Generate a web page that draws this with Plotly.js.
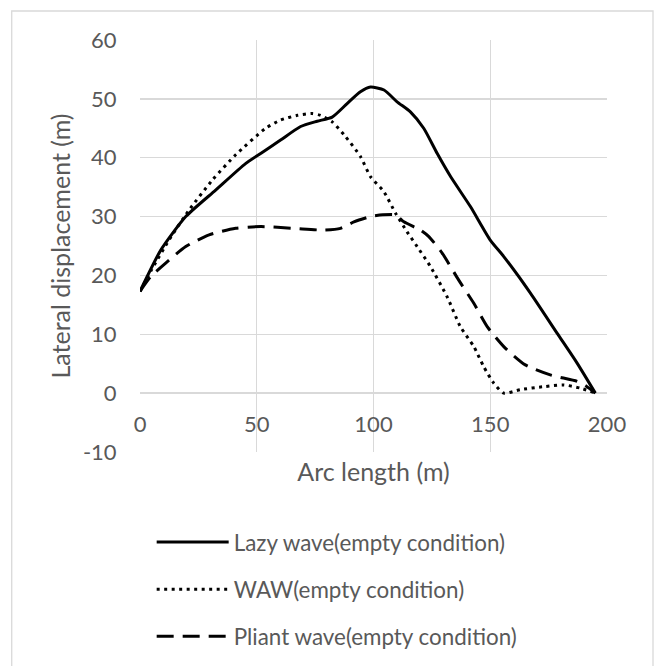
<!DOCTYPE html>
<html>
<head>
<meta charset="utf-8">
<script src="https://cdn.plot.ly/plotly-3.0.1.min.js"></script>
<style>
html,body{margin:0;padding:0;background:#fff;}
#chart{width:660px;height:666px;}
</style>
</head>
<body>
<div id="chart"></div>
<script>
var seriesNames = ["Lazy wave(empty condition)", "WAW(empty condition)", "Pliant wave(empty condition)"];

var lazyX = [0, 8.9, 19.6, 32.4, 45.2, 52, 60.2, 68.8, 75.9, 82.3, 88.7, 94.4, 98.7, 104.5, 110.1, 115.8, 121.5, 127.3, 133, 141.5, 150, 155.8, 167.2, 178.6, 187.2, 195];
var lazyY = [17.3, 24.3, 30, 34.5, 39, 40.8, 43, 45.3, 46.2, 46.9, 49.2, 51.2, 52, 51.5, 49.5, 47.8, 45, 40.7, 36.8, 31.7, 26, 23.2, 17, 10.2, 5.1, 0];

var wawX = [0, 5, 12.4, 21, 31, 41, 53.8, 60.2, 67.4, 73.8, 77.3, 82.3, 88, 94.4, 98.7, 104.5, 109.4, 114.4, 118.7, 124.4, 131.5, 137.2, 143, 147.2, 151.5, 155.8, 162.9, 172.9, 181.4, 188.6, 195];
var wawY = [17.3, 21, 26, 31.1, 36.2, 40.5, 45, 46.4, 47.2, 47.5, 47.2, 46.1, 43.6, 40.2, 36.8, 34.2, 30.6, 27.4, 24.9, 21.5, 16.4, 11.3, 7.9, 4.5, 1.7, 0, 0.6, 1.1, 1.4, 0.85, 0];

var pliantX = [0, 4.6, 11, 19.6, 29.6, 41, 51.7, 65.9, 78.7, 85.9, 91.6, 98.7, 104, 109.4, 113, 120.1, 123.7, 129.4, 136.5, 142.9, 148.7, 155.8, 165, 175.7, 187.2, 191, 195];
var pliantY = [17.3, 19.8, 22.1, 24.9, 26.9, 28, 28.3, 28, 27.7, 28, 29.1, 30, 30.3, 30.3, 29.1, 27.7, 26.6, 23.8, 19.2, 15.3, 11.3, 7.9, 4.8, 3.1, 2.0, 1.2, 0];

var xTicks = [0, 50, 100, 150, 200];
var yTicks = [-10, 0, 10, 20, 30, 40, 50, 60];

var FONT = "Lato, 'Open Sans', sans-serif";
var GRAY = "#595959";
var GRID = "#d9d9d9";

function tr(x, y, name, dash) {
  return {
    x: x, y: y, name: name, type: "scatter", mode: "lines",
    legendgroup: name,
    line: {color: "#000000", width: 3, dash: dash, shape: "spline", smoothing: 0.6},
    hoverinfo: "skip"
  };
}

var data = [
  tr(lazyX, lazyY, seriesNames[0], "solid"),
  tr(wawX, wawY, seriesNames[1], "3px,4.5px"),
  tr(pliantX, pliantY, seriesNames[2], "17px,9px")
];

var layout = {
  width: 660, height: 666,
  margin: {l: 140, r: 53, t: 40, b: 214, autoexpand: false},
  paper_bgcolor: "#ffffff", plot_bgcolor: "#ffffff",
  font: {family: FONT, size: 22, color: GRAY},
  showlegend: true,
  legend: {
    x: 0.025, xanchor: "left", y: -0.1675, yanchor: "top",
    orientation: "v", tracegroupgap: 15, itemwidth: 72,
    font: {family: FONT, size: 22.4, color: GRAY},
    bgcolor: "rgba(0,0,0,0)"
  },
  xaxis: {
    range: [0, 200], tickvals: xTicks, ticktext: xTicks.map(String),
    showgrid: true, gridcolor: GRID, gridwidth: 1.3,
    zeroline: false, showline: false,
    anchor: "free", position: 1/7,
    ticks: "outside", ticklen: 11, tickcolor: "rgba(0,0,0,0)",
    tickfont: {family: FONT, size: 22, color: GRAY},
    title: {text: "Arc length (m)", font: {family: FONT, size: 25, color: GRAY}, standoff: 27}
  },
  yaxis: {
    range: [-10, 60], tickvals: yTicks, ticktext: yTicks.map(String),
    showgrid: true, gridcolor: GRID, gridwidth: 1.3,
    zeroline: false, showline: false,
    ticks: "outside", ticklen: 18, tickcolor: "rgba(0,0,0,0)",
    tickfont: {family: FONT, size: 22, color: GRAY},
    title: {text: "Lateral displacement (m)", font: {family: FONT, size: 25, color: GRAY}, standoff: 5}
  },
  shapes: [{
    type: "rect", xref: "paper", yref: "paper",
    x0: -0.2747, x1: 1.0985, y0: -0.7, y1: 1.0704,
    line: {color: GRID, width: 1.3}, fillcolor: "rgba(0,0,0,0)", layer: "below"
  }]
};

Plotly.newPlot("chart", data, layout, {displayModeBar: false, staticPlot: true});
</script>
</body>
</html>
